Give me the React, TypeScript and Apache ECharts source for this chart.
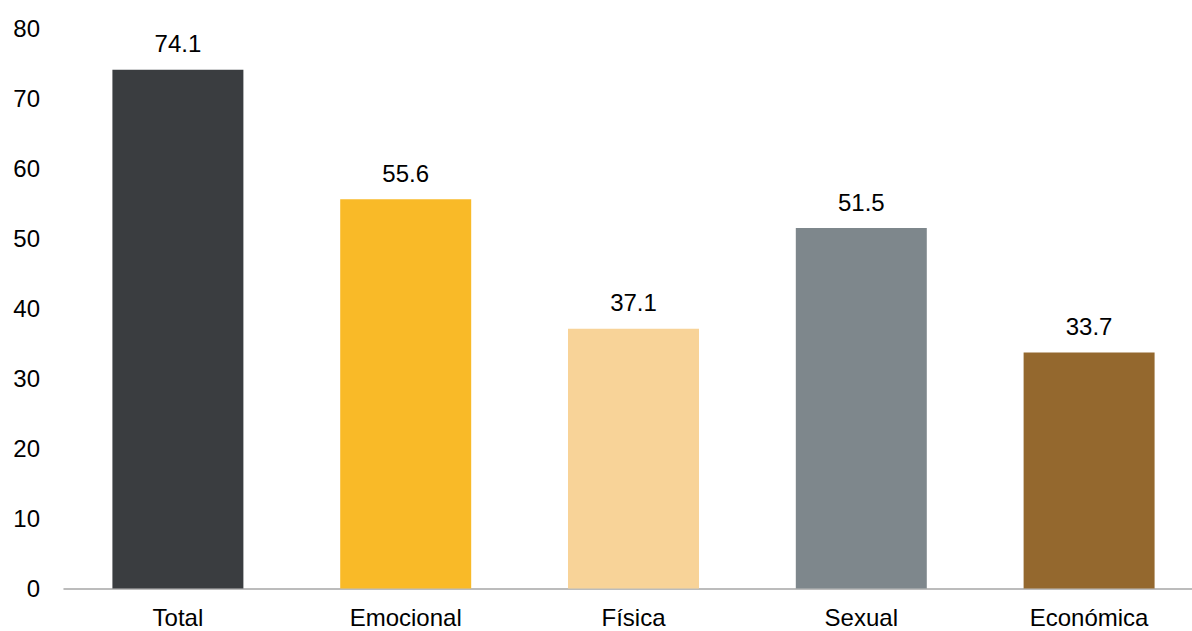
import React, { useEffect, useRef } from "react";
import * as echarts from "echarts";

const categories = ["Total", "Emocional", "Física", "Sexual", "Económica"];
const values = [74.1, 55.6, 37.1, 51.5, 33.7];
const colors = ["#3A3D40", "#F9BA28", "#F8D398", "#7E878C", "#94682E"];

const FONT = "Liberation Sans, Arial, sans-serif";

export default function App() {
  const ref = useRef<HTMLDivElement>(null);
  useEffect(() => {
    const chart = echarts.init(ref.current!, undefined, { renderer: "svg" });
    chart.setOption({
      animation: false,
      grid: { left: 64, top: 28.5, width: 1139, height: 560, containLabel: false },
      xAxis: {
        type: "category",
        data: categories,
        axisLine: { lineStyle: { color: "#A6A6A6", width: 1.5 } },
        axisTick: { show: false },
        axisLabel: { color: "#000", fontSize: 24, fontFamily: FONT, margin: 17 },
      },
      yAxis: {
        type: "value",
        min: 0,
        max: 80,
        interval: 10,
        splitLine: { show: false },
        axisLine: { show: false },
        axisTick: { show: false },
        axisLabel: { color: "#000", fontSize: 24, fontFamily: FONT, margin: 24 },
      },
      series: [
        {
          type: "bar",
          barWidth: "57.5%",
          data: values.map((v, i) => ({ value: v, itemStyle: { color: colors[i] } })),
          label: {
            show: true,
            position: "top",
            distance: 14,
            color: "#000",
            fontSize: 24,
            fontFamily: FONT,
            formatter: (p: any) => p.value.toFixed(1),
          },
        },
      ],
    });
    return () => chart.dispose();
  }, []);
  return (
    <div style={{ position: "absolute", left: 0, top: 0, width: 1192, height: 631, overflow: "hidden" }}>
      <div ref={ref} style={{ width: 1220, height: 631 }} />
    </div>
  );
}
